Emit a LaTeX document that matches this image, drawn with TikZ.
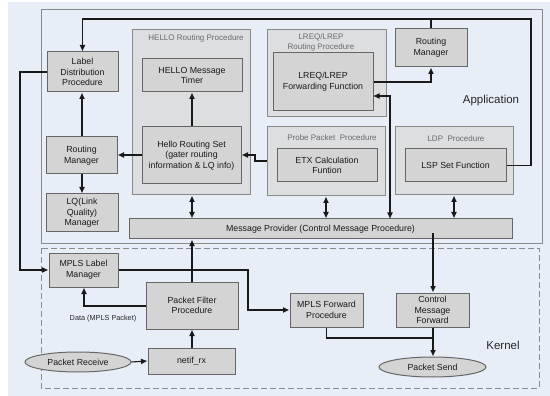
\documentclass[tikz,border=0pt]{standalone}
\usepackage{fontspec}
\setmainfont{Liberation Sans}
\usetikzlibrary{arrows.meta,shapes.geometric}
\definecolor{bgblue}{HTML}{E8EEF8}
\definecolor{boxfill}{HTML}{D4D4D4}
\definecolor{grpfill}{HTML}{DDDEE0}
\definecolor{boxline}{HTML}{666666}
\definecolor{grpline}{HTML}{8A8A8A}
\definecolor{lbl}{HTML}{6A6A6A}
\begin{document}
\begin{tikzpicture}[x=1pt,y=-1pt,
  box/.style={draw=boxline,fill=boxfill,line width=1pt,inner sep=1pt,align=center,
    font=\fontsize{8.8}{10.6}\selectfont,text=black!90},
  grp/.style={draw=grpline,fill=grpfill,line width=1pt,inner sep=0pt},
  oval/.style={ellipse,draw=boxline,fill=boxfill,line width=1pt,inner sep=0pt,
    font=\fontsize{8.8}{10.6}\selectfont,text=black!90},
  grplabel/.style={font=\fontsize{8}{10}\selectfont,text=lbl,align=center,inner sep=0pt},
  area/.style={font=\fontsize{11.5}{13}\selectfont,text=black!85,inner sep=0pt},
  arr/.style={line width=1.1pt,black!90,-{Latex[length=6.5pt,width=6pt]}},
  barr/.style={line width=1.1pt,black!90,{Latex[length=6.5pt,width=6pt]}-{Latex[length=6.5pt,width=6pt]}},
  wire/.style={line width=1.1pt,black!90}]
\useasboundingbox (0,0) rectangle (550,396);
\fill[white] (0,0) rectangle (550,396);
\fill[bgblue] (8,2) rectangle (550,396);

% user space and kernel space
\draw[draw=grpline,line width=1pt] (41,10) rectangle (542,243);
\draw[draw=grpline,line width=1pt,dash pattern=on 6pt off 3pt] (41,248) rectangle (539,388);
\node[area] (app) at (491,101) {Application};
\node[area] (kern) at (503,345) {Kernel};

% left column
\node[box,minimum width=71pt,minimum height=40pt] (ldp) at (82.5,72) {Label\\Distribution\\Procedure};
\node[box,minimum width=71pt,minimum height=37pt] (rm1) at (81.5,155.5) {Routing\\Manager};
\node[box,minimum width=72pt,minimum height=38pt] (lq) at (82,213) {LQ(Link\\Quality)\\Manager};

% HELLO routing procedure
\node[grp,minimum width=118pt,minimum height=165pt] (hello) at (191,112.5) {};
\node[grplabel] (hellolbl) at (196,38.5) {HELLO Routing Procedure};
\node[box,minimum width=100pt,minimum height=33pt] (timer) at (192,75.5) {HELLO Message\\Timer};
\node[box,minimum width=99pt,minimum height=57pt] (hrs) at (191.5,155.5) {Hello Routing Set\\(gater routing\\information \& LQ info)};

% LREQ/LREP routing procedure
\node[grp,minimum width=119pt,minimum height=87pt] (lreq) at (326.5,73.5) {};
\node[grplabel] (lreqlbl) at (321,42.5) {LREQ/LREP\\Routing Procedure};
\node[box,minimum width=100pt,minimum height=58pt] (lreqf) at (323,82) {LREQ/LREP\\Forwarding Function};
\node[box,minimum width=72pt,minimum height=38pt] (rm2) at (431,48) {Routing\\Manager};

% probe packet procedure
\node[grp,minimum width=118pt,minimum height=69pt] (probe) at (326,161.5) {};
\node[grplabel] (probelbl) at (332,137.5) {Probe Packet\ \ Procedure};
\node[box,minimum width=100pt,minimum height=33pt] (etx) at (327,165.5) {ETX Calculation\\Funtion};

% LDP procedure
\node[grp,minimum width=118pt,minimum height=68pt] (ldpc) at (454,161) {};
\node[grplabel] (ldplbl) at (456,138.5) {LDP\ \ Procedure};
\node[box,minimum width=101pt,minimum height=33pt] (lsp) at (455.5,165.5) {LSP Set Function};

% message provider
\node[box,minimum width=383pt,minimum height=20pt] (mp) at (320.5,229) {Message Provider (Control Message Procedure)};

% kernel blocks
\node[box,minimum width=69pt,minimum height=34pt] (mlm) at (83.5,270) {MPLS Label\\Manager};
\node[box,minimum width=92pt,minimum height=47pt] (pf) at (192,305.5) {Packet Filter\\Procedure};
\node[box,minimum width=87pt,minimum height=26pt] (nr) at (191.5,361) {netif\_rx};
\node[oval,minimum width=106pt,minimum height=20pt] (prx) at (78,362) {Packet Receive};
\node[box,minimum width=73pt,minimum height=34pt] (mfp) at (326.5,310) {MPLS Forward\\Procedure};
\node[box,minimum width=73pt,minimum height=34pt] (cmf) at (432.5,310) {Control\\Message\\Forward};
\node[oval,minimum width=107pt,minimum height=20pt] (ptx) at (432.5,367) {Packet Send};
\node[font=\fontsize{7.3}{9}\selectfont,text=black!85,inner sep=0pt] (datalbl) at (103,318.5) {Data (MPLS Packet)};

% connectors in the application part
\coordinate (topR) at (531,19);
\draw[arr] (lsp.east) -| (topR) -| (ldp.north);
\draw[wire] (rm2.north) -- (rm2.north |- topR);
\draw[arr] (lreqf.east) -- (rm2.south |- lreqf.east) -- (rm2.south);
\coordinate (lreqin) at (373,96);
\draw[barr] (lreqin) -| (390,219);
\coordinate (jog) at (255,161);
\draw[arr] (probe.west |- jog) -- (jog) -- (255,155) -- (hrs.east |- 0,155);
\draw[arr] (hrs.west |- 0,155) -- (rm1.east |- 0,155);
\draw[arr] (hrs.north -| 192,0) -- (timer.south -| 192,0);
\draw[arr] (rm1.north -| 82,0) -- (ldp.south -| 82,0);
\draw[arr] (rm1.south -| 82,0) -- (lq.north -| 82,0);
\draw[barr] (hello.south -| 192,0) -- (mp.north -| 192,0);
\draw[barr] (probe.south -| 326,0) -- (mp.north -| 326,0);
\draw[barr] (ldpc.south -| 454,0) -- (mp.north -| 454,0);

% connectors reaching the kernel
\draw[arr] (ldp.west) -- (20,72) |- (mlm.west);
\draw[arr] (mlm.east) -- (248,270) |- (mfp.west);
\draw[arr] (pf.west |- 0,306) -- (84,306) -- (mlm.south -| 84,0);
\draw[arr] (pf.north) -- (mp.south -| pf.north);
\draw[arr] (nr.north -| 192,0) -- (pf.south -| 192,0);
\draw[arr] (prx.east) -- (nr.west);
\draw[arr] (433,233) -- (cmf.north -| 433,0);
\draw[wire] (mfp.south) |- (433,338);
\draw[arr] (cmf.south -| 433,0) -- (ptx.north -| 433,0);
\end{tikzpicture}
\end{document}
